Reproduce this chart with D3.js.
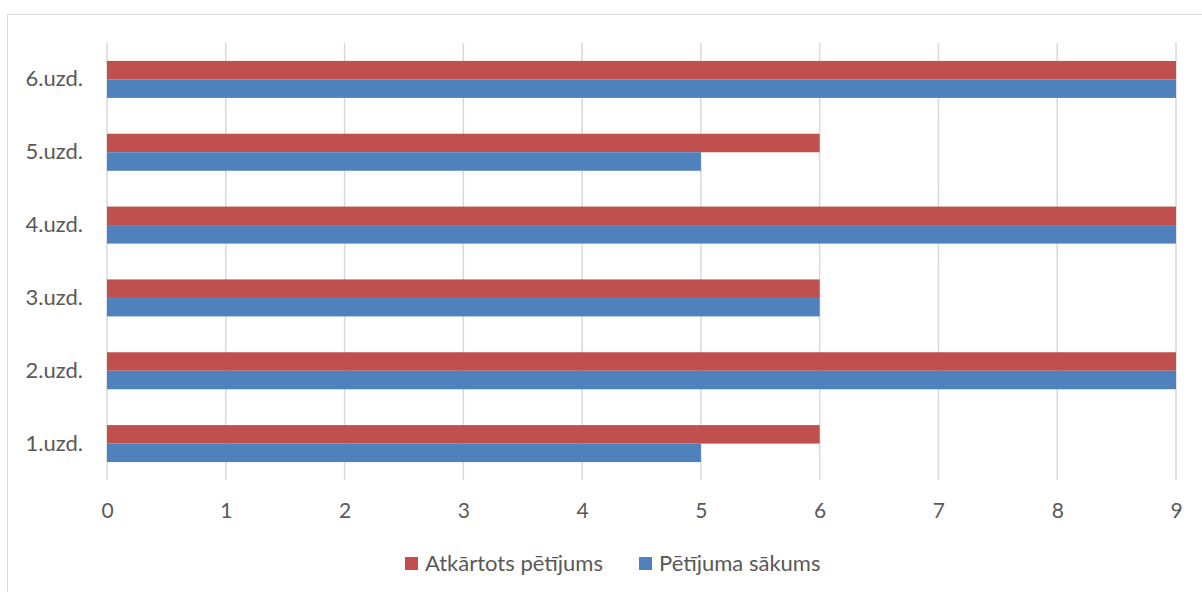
<!DOCTYPE html>
<html>
<head>
<meta charset="utf-8">
<script src="https://cdn.jsdelivr.net/npm/d3@7"></script>
<style>
  body { margin: 0; background: #fff; }
  svg { display: block; font-family: Lato, "Open Sans", sans-serif; }
</style>
</head>
<body>
<div id="chart"></div>
<script>
var categories = ['1.uzd.', '2.uzd.', '3.uzd.', '4.uzd.', '5.uzd.', '6.uzd.'];
var seriesNames = ['Atkārtots pētījums', 'Pētījuma sākums'];
var atkartots = [6, 9, 6, 9, 6, 9];
var sakums = [5, 9, 6, 9, 5, 9];
var xTicks = [0, 1, 2, 3, 4, 5, 6, 7, 8, 9];
var colors = ['#C0504D', '#4F81BD'];

var width = 1202, height = 592;
var svg = d3.select('#chart').append('svg')
	.attr('width', width)
	.attr('height', height);

// chart border
svg.append('rect')
	.attr('x', 7.5).attr('y', 14.5)
	.attr('width', 1210).attr('height', 600)
	.attr('fill', 'none')
	.attr('stroke', '#d9d9d9')
	.attr('stroke-width', 1);

var xScale = d3.scaleLinear().domain([0, 9]).range([107, 1176]);
var yScale = d3.scaleBand().domain(categories.slice().reverse()).range([43, 480]).paddingInner(0).paddingOuter(0);

// gridlines
svg.append('g')
	.selectAll('line')
	.data(xTicks)
	.enter()
	.append('line')
	.attr('x1', function(d) { return xScale(d); })
	.attr('x2', function(d) { return xScale(d); })
	.attr('y1', 43)
	.attr('y2', 480)
	.attr('stroke', '#d9d9d9')
	.attr('stroke-width', 1.5);

var barH = yScale.bandwidth() * 0.254;
var data = categories.map(function(c, i) {
	return { cat: c, values: [atkartots[i], sakums[i]] };
});

data.forEach(function(d) {
	var mid = yScale(d.cat) + yScale.bandwidth() / 2;
	svg.append('g')
		.selectAll('rect')
		.data(d.values)
		.enter()
		.append('rect')
		.attr('x', xScale(0))
		.attr('y', function(v, j) { return j === 0 ? mid - barH : mid; })
		.attr('width', function(v) { return xScale(v) - xScale(0); })
		.attr('height', barH)
		.attr('fill', function(v, j) { return colors[j]; });
});

var xAxis = d3.axisBottom(xScale).tickValues(xTicks).tickSize(0).tickPadding(0);
var xg = svg.append('g')
	.attr('transform', 'translate(0,480)')
	.call(xAxis);
xg.select('.domain').remove();
xg.selectAll('text')
	.attr('dy', null)
	.attr('y', 38)
	.attr('fill', '#595959')
	.style('font-size', '21px')
	.style('font-family', 'Lato, "Open Sans", sans-serif');

var yAxis = d3.axisLeft(yScale).tickSize(0).tickPadding(0);
var yg = svg.append('g')
	.attr('transform', 'translate(83,0)')
	.call(yAxis);
yg.select('.domain').remove();
yg.selectAll('text')
	.attr('fill', '#595959')
	.style('font-size', '22px')
	.style('font-family', 'Lato, "Open Sans", sans-serif');

// legend
var legendX = [405, 639];
var legend = svg.append('g');
seriesNames.forEach(function(name, i) {
	legend.append('rect')
		.attr('x', legendX[i]).attr('y', 557)
		.attr('width', 13).attr('height', 13)
		.attr('fill', colors[i]);
	legend.append('text')
		.attr('x', legendX[i] + 20).attr('y', 571)
		.attr('fill', '#595959')
		.style('font-size', '22px')
		.text(name);
});
</script>
</body>
</html>
